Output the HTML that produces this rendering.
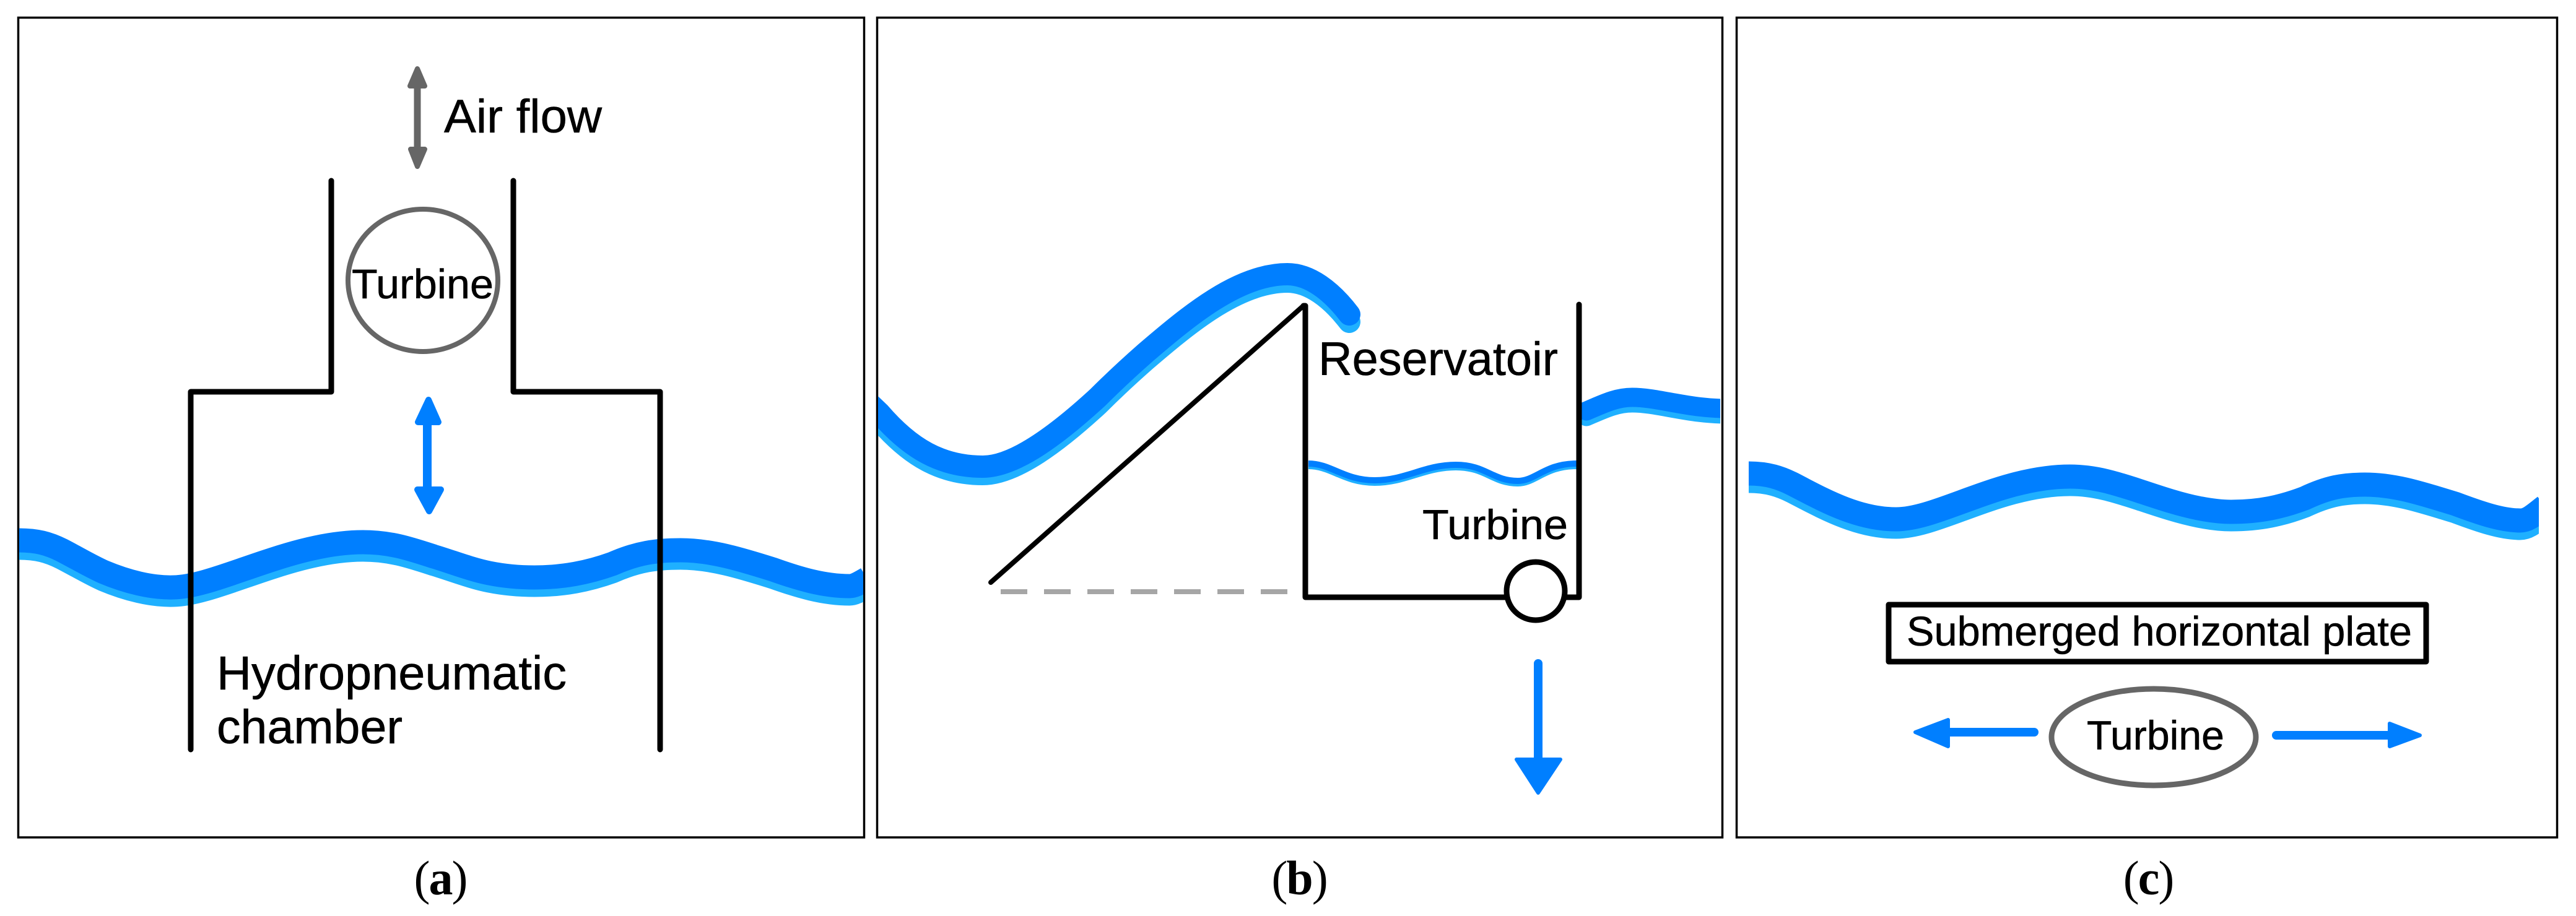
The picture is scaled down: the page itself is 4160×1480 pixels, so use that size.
<!DOCTYPE html>
<html>
<head>
<meta charset="utf-8">
<style>
html,body{margin:0;padding:0;background:#fff;width:4160px;height:1480px;overflow:hidden}
svg{display:block}
text{font-family:"Liberation Sans",sans-serif;fill:#000;stroke:#000;stroke-width:.6px}
.cap{font-family:"Liberation Serif",serif;font-size:78px;text-anchor:middle;letter-spacing:-2px;stroke:none}
.cap tspan{font-weight:bold}
</style>
</head>
<body>
<svg width="4160" height="1480" viewBox="0 0 4160 1480" xmlns="http://www.w3.org/2000/svg">
<defs>
<clipPath id="ca"><rect x="31" y="30" width="1363" height="1321"/></clipPath>
<clipPath id="cc"><rect x="2824" y="30" width="1276" height="1321"/></clipPath>
<clipPath id="cb"><rect x="1418" y="30" width="1360" height="1321"/></clipPath>
<path id="wa" d="M20 873 L29 873 C60 873 78 878 100 889 C125 902 145 914 167 924 C205 940 245 950 280 949 C350 948 470 876 586 876 C630 876 660 886 700 899 C730 908 760 920 790 926 C815 931 840 933 863 933 C910 933 950 925 989 911 C1030 893 1060 889 1099 889 C1150 889 1200 905 1248 920 C1290 935 1330 947 1372 947 C1380 947 1388 942 1400 935"/>
<path id="wb" d="M1400 648 L1420 667 C1470 725 1520 754 1587 754 C1640 754 1710 700 1773 642 C1800 615 1825 592 1850 570 C1920 510 2000 443 2079 443 C2115 443 2150 470 2179 508"/>
<path id="wr" d="M2562 664 C2590 652 2610 642 2636 642 C2680 642 2730 662 2800 660"/>
<path id="wi" d="M2113 749 C2150 749 2170 776 2220 776 C2270 776 2300 751 2351 751 C2400 751 2410 777 2451 777 C2480 777 2495 749 2546 749"/>
<path id="wc" d="M2810 765 L2824 765 C2855 765 2875 772 2895 782 C2945 808 3000 839 3062 839 C3130 839 3230 770 3343 770 C3385 770 3420 782 3460 795 C3490 805 3520 815 3550 821 C3570 825 3585 827 3603 827 C3650 827 3685 819 3722 805 C3760 787 3785 783 3819 783 C3870 783 3915 799 3965 814 C4005 829 4040 841 4070 841 C4083 841 4092 832 4110 818"/>
</defs>
<rect width="4160" height="1480" fill="#fff"/>

<!-- Panel frames -->
<g fill="none" stroke="#000" stroke-width="3.5">
<rect x="29.5" y="28.5" width="1366" height="1324.5"/>
<rect x="1416.5" y="28.5" width="1365" height="1324.5"/>
<rect x="2804.5" y="28.5" width="1325" height="1324.5"/>
</g>

<!-- Panel a -->
<g clip-path="url(#ca)" fill="none">
<use href="#wa" transform="translate(0,12)" stroke="#1fb0ff" stroke-width="39"/>
<use href="#wa" stroke="#007fff" stroke-width="39"/>
</g>
<g fill="none" stroke="#000" stroke-width="9" stroke-linecap="round" stroke-linejoin="round">
<path d="M308 1211 V633 H535 V292"/>
<path d="M1066 1211 V633 H829 V292"/>
</g>
<ellipse cx="683" cy="453" rx="121" ry="115" fill="none" stroke="#666" stroke-width="8"/>
<text x="568" y="482" font-size="67" textLength="229" lengthAdjust="spacingAndGlyphs">Turbine</text>
<g fill="#666" stroke="#666" stroke-width="8" stroke-linejoin="round">
<path d="M662 139 L674 111 L686 139 Z"/>
<path d="M663 241 L674 269 L686 241 Z"/>
</g>
<path d="M674 140 V240" stroke="#666" stroke-width="11"/>
<text x="717" y="214" font-size="76" textLength="255" lengthAdjust="spacingAndGlyphs">Air flow</text>
<g fill="#007fff" stroke="#007fff" stroke-width="10" stroke-linejoin="round">
<path d="M675 682 L692 646 L708 682 Z"/>
<path d="M674 791 L693 826 L712 791 Z"/>
</g>
<path d="M690 682 V791" stroke="#007fff" stroke-width="14"/>
<text x="350" y="1114" font-size="77" textLength="565" lengthAdjust="spacingAndGlyphs">Hydropneumatic</text>
<text x="350" y="1201" font-size="77" textLength="300" lengthAdjust="spacingAndGlyphs">chamber</text>

<!-- Panel b -->
<g clip-path="url(#cb)" fill="none" stroke-linecap="round">
<use href="#wb" transform="translate(0,12)" stroke="#1fb0ff" stroke-width="36"/>
<use href="#wb" stroke="#007fff" stroke-width="36"/>
<use href="#wr" transform="translate(0,9)" stroke="#1fb0ff" stroke-width="31"/>
<use href="#wr" stroke="#007fff" stroke-width="31"/>
</g>
<g fill="none">
<use href="#wi" transform="translate(0,4)" stroke="#1fb0ff" stroke-width="10"/>
<use href="#wi" stroke="#007fff" stroke-width="10"/>
</g>
<path d="M1616 956 H2079" fill="none" stroke="#a6a6a6" stroke-width="8" stroke-dasharray="43 27"/>
<path d="M1600 941 L2105 494" fill="none" stroke="#000" stroke-width="8" stroke-linecap="round"/>
<path d="M2105 494 L2108 494 V965 H2550 V492" fill="none" stroke="#000" stroke-width="9" stroke-linecap="round" stroke-linejoin="round"/>
<circle cx="2480" cy="955" r="47" fill="#fff" stroke="#000" stroke-width="9"/>
<text x="2129" y="606" font-size="76" textLength="387" lengthAdjust="spacingAndGlyphs">Reservatoir</text>
<text x="2297" y="871" font-size="68" textLength="235" lengthAdjust="spacingAndGlyphs">Turbine</text>
<path d="M2484 1072 V1228" stroke="#007fff" stroke-width="14" stroke-linecap="round"/>
<path d="M2449 1227 L2520 1227 L2484 1281 Z" fill="#007fff" stroke="#007fff" stroke-width="6" stroke-linejoin="round"/>

<!-- Panel c -->
<g clip-path="url(#cc)" fill="none">
<use href="#wc" transform="translate(0,12)" stroke="#1fb0ff" stroke-width="39"/>
<use href="#wc" stroke="#007fff" stroke-width="39"/>
</g>
<rect x="3050" y="977" width="868" height="92" fill="none" stroke="#000" stroke-width="9" stroke-linejoin="round"/>
<text x="3079" y="1043" font-size="67" textLength="816" lengthAdjust="spacingAndGlyphs">Submerged horizontal plate</text>
<ellipse cx="3478" cy="1191" rx="165" ry="78" fill="none" stroke="#666" stroke-width="9"/>
<text x="3370" y="1211" font-size="66" textLength="222" lengthAdjust="spacingAndGlyphs">Turbine</text>
<path d="M3145 1183 H3285" stroke="#007fff" stroke-width="14" stroke-linecap="round"/>
<path d="M3093 1183 L3146 1163 V1206 Z" fill="#007fff" stroke="#007fff" stroke-width="6" stroke-linejoin="round"/>
<path d="M3676 1188 H3860" stroke="#007fff" stroke-width="14" stroke-linecap="round"/>
<path d="M3908 1188 L3859 1169 V1206 Z" fill="#007fff" stroke="#007fff" stroke-width="6" stroke-linejoin="round"/>

<!-- Captions -->
<text class="cap" x="711" y="1445">(<tspan>a</tspan>)</text>
<text class="cap" x="2098" y="1445">(<tspan>b</tspan>)</text>
<text class="cap" x="3469" y="1445">(<tspan>c</tspan>)</text>
</svg>
</body>
</html>
